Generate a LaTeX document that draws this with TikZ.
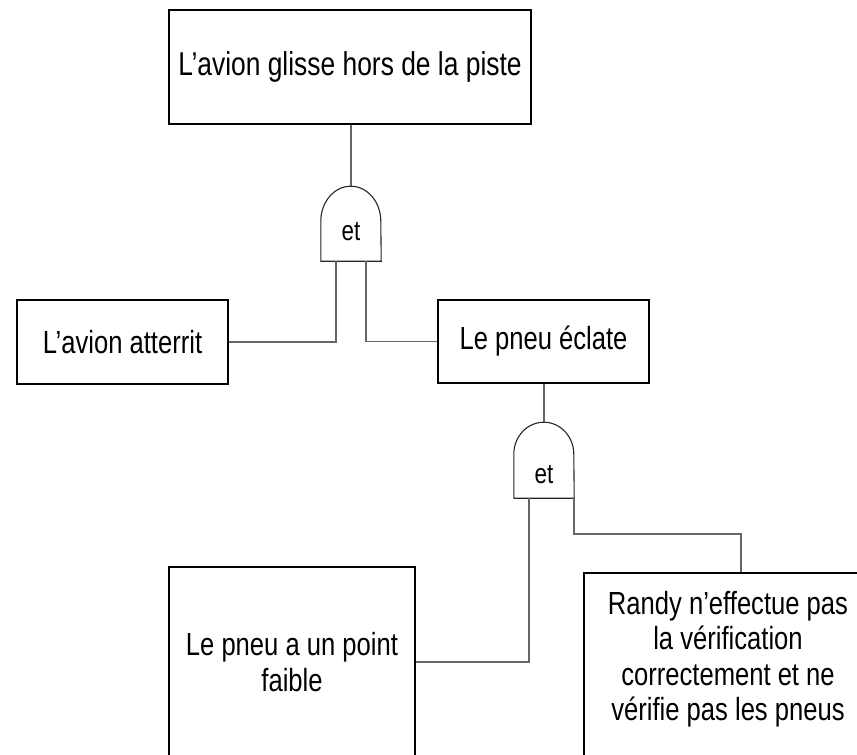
\documentclass[tikz,border=0pt]{standalone}
\usepackage{fontspec}
\setmainfont{Liberation Sans}[FakeStretch=0.8]
\begin{document}
\begin{tikzpicture}[x=1pt,y=-1pt,
  box/.style={draw=black,line width=1.8pt,rectangle,inner sep=0pt,
    font=\fontsize{32}{36}\selectfont,align=center},
  txt/.style={inner sep=0pt,font=\fontsize{32}{35.5}\selectfont,align=center},
  gatebox/.style={rectangle,draw=none,inner sep=0pt,minimum width=60pt,minimum height=#1},
  gateline/.style={draw=black!85,line width=1.1pt},
  gatetxt/.style={inner sep=0pt,font=\fontsize{28}{30}\selectfont},
  conn/.style={draw=black!60,line width=1.5pt}
]
\useasboundingbox (0,0) rectangle (857,755);
\clip (0,0) rectangle (857,755);

% event boxes
\node[box,minimum width=362pt,minimum height=114pt,font=\fontsize{33}{36}\selectfont] (top) at (350,67) {L’avion glisse hors de la piste};
\node[box,minimum width=211pt,minimum height=84pt] (atterrit) at (122.5,342) {L’avion atterrit};
\node[box,minimum width=211pt,minimum height=83pt] (eclate) at (543.5,341.5) {Le pneu éclate};
\node[box,minimum width=246pt,minimum height=190pt] (faible) at (292,662) {Le pneu a un point\\faible};
\node[box,minimum width=288pt,minimum height=200pt] (randy) at (728,673) {};
\node[txt] (randyt) at (728,659) {Randy n’effectue pas\\la vérification\\correctement et ne\\vérifie pas les pneus};

% AND gates
\node[gatebox=75pt] (g1) at (351,223.5) {};
\draw[gateline] (g1.south west) -- ++(0,-40) arc[start angle=180,end angle=360,x radius=30,y radius=35]
  -- (g1.south east) -- cycle;
\node[gatetxt] (g1t) at (351,232) {et};

\node[gatebox=76pt] (g2) at (544,460) {};
\draw[gateline] (g2.south west) -- ++(0,-44) arc[start angle=180,end angle=360,x radius=30,y radius=32]
  -- (g2.south east) -- cycle;
\node[gatetxt] (g2t) at (544,475) {et};

% connectors
\draw[conn] (top.south -| g1.north) -- (g1.north);
\draw[conn] ([xshift=-15pt]g1.south) |- (atterrit.east);
\draw[conn] ([xshift=15pt]g1.south) |- (eclate.west);
\draw[conn] (eclate.south -| g2.north) -- (g2.north);
\draw[conn] ([xshift=-15pt]g2.south) |- (faible.east);
\draw[conn] (g2.south east) -- ++(0,36) -| ([xshift=13pt]randy.north);
\end{tikzpicture}
\end{document}
